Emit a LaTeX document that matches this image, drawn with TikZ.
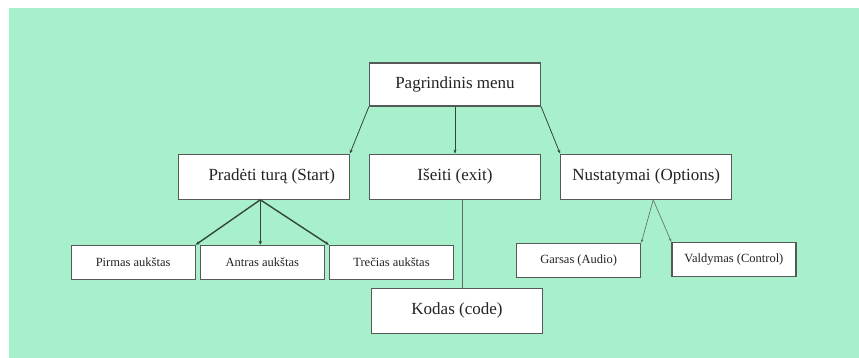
\documentclass[tikz,border=0pt]{standalone}
\usepackage{fontspec}
\setmainfont{Liberation Serif}
\definecolor{MenuMint}{RGB}{168, 240, 204}
\definecolor{MenuEdge}{RGB}{85, 90, 88}
\definecolor{MenuLine}{RGB}{50, 70, 60}
\definecolor{MenuText}{RGB}{35, 35, 35}
\usetikzlibrary{arrows.meta, positioning}

\begin{document}
\begin{tikzpicture}[x=1pt, y=-1pt,
        bigbox/.style={rectangle, draw=MenuEdge, fill=white, line width=1.2pt,
                       minimum width=171pt, minimum height=45pt, inner sep=0pt,
                       font=\fontsize{17}{20}\selectfont, text=MenuText},
        smallbox/.style={bigbox, minimum width=124pt, minimum height=34pt,
                         font=\fontsize{12.5}{15}\selectfont},
        arr/.style={-{Stealth[length=4pt, width=3pt]}, MenuLine, line width=0.8pt},
        fork/.style={-{Stealth[length=4pt, width=3.5pt]}, MenuLine, line width=1.4pt},
        thinarr/.style={-{Stealth[length=3.5pt, width=2.5pt]}, MenuLine!80, line width=0.6pt}
      ]
      \useasboundingbox (0,0) rectangle (859,358);
      \fill[white] (0,0) rectangle (859,358);
      \fill[MenuMint] (9,8) rectangle (859,358);
      % top level
      \node[bigbox, minimum height=43pt] (menu) at (455,84.5) {Pagrindinis menu};
      \node[bigbox, below=47pt of menu] (exit) {Išeiti (exit)};
      \node[bigbox, left=19pt of exit] (start) {\hspace*{16pt}Pradėti turą (Start)};
      \node[bigbox, right=19pt of exit] (options) {Nustatymai (Options)};
      \node[bigbox, below=88pt of exit, xshift=2pt] (code) {Kodas (code)};
      % floors
      \node[smallbox, below=45pt of start, xshift=-1.5pt] (floortwo) {Antras aukštas};
      \node[smallbox, left=4pt of floortwo] (floorone) {Pirmas aukštas};
      \node[smallbox, right=4pt of floortwo] (floorthree) {Trečias aukštas};
      % settings
      \node[smallbox, below=43pt of options, xshift=-67.5pt] (audio) {Garsas (Audio)};
      \node[smallbox, right=30pt of audio, yshift=1pt] (control) {Valdymas (Control)};
      % connectors
      \draw[arr] (menu.south west) -- (start.north east);
      \draw[arr] (menu) -- (exit);
      \draw[arr] (menu.south east) -- (options.north west);
      \coordinate (startfoot) at ([xshift=-3.5pt]start.south);
      \draw[fork] (startfoot) -- (floorone.north east);
      \draw[fork] (startfoot) -- (startfoot |- floortwo.north);
      \draw[fork] (startfoot) -- (floorthree.north west);
      \coordinate (exitfoot) at ([xshift=7.5pt]exit.south);
      \draw[MenuLine!80, line width=0.6pt] (exitfoot) -- (exitfoot |- code.north);
      \coordinate (optfoot) at ([xshift=7pt]options.south);
      \draw[thinarr] (optfoot) -- (audio.north east);
      \draw[thinarr] (optfoot) -- (control.north west);
    \end{tikzpicture}
\end{document}
